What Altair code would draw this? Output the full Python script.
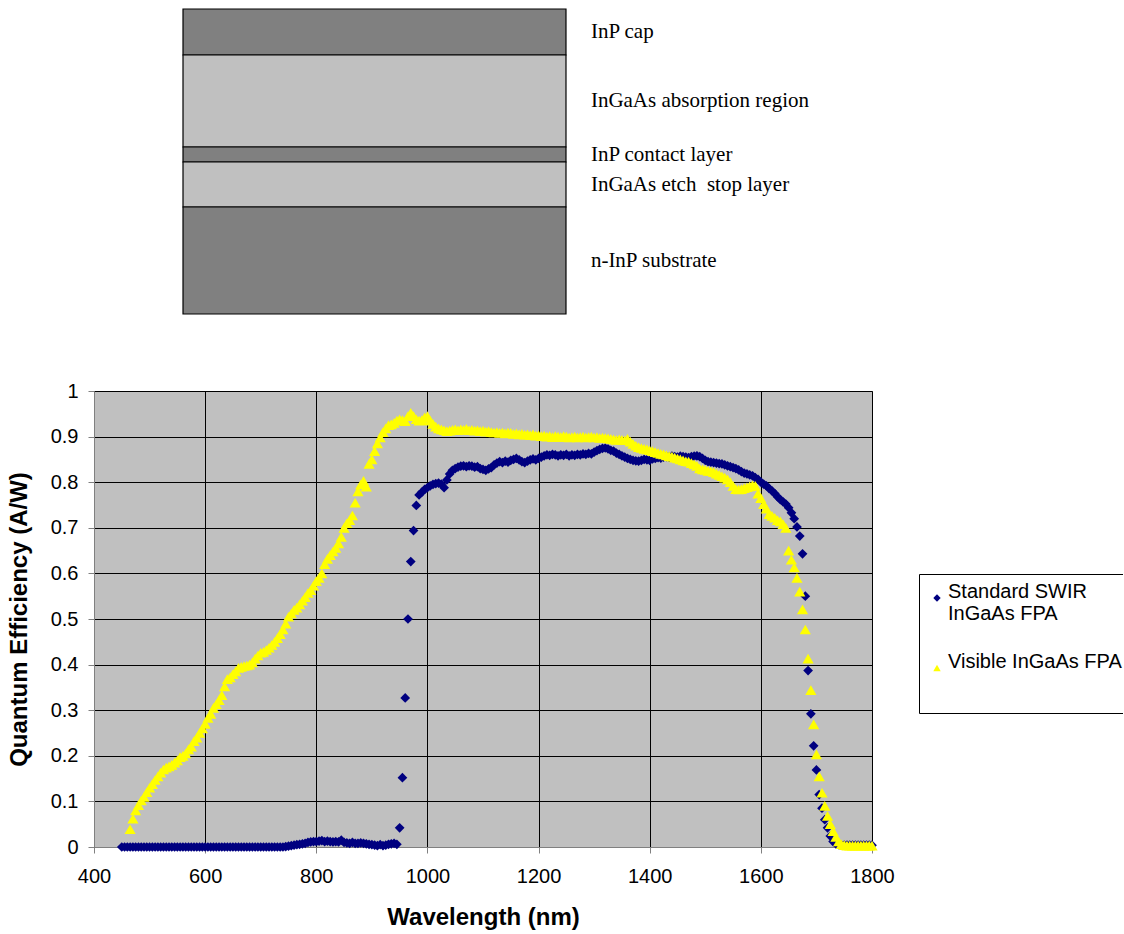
import altair as alt
import pandas as pd

# ---------------- layer-stack diagram ----------------
layer_names = ["InP cap", "InGaAs absorption region", "InP contact layer",
               "InGaAs etch\u00a0 stop layer", "n-InP substrate"]
layer_thickness = [46, 92, 15, 45, 107]
layer_fills = ["#808080", "#C0C0C0", "#808080", "#C0C0C0", "#808080"]

# ---------------- quantum efficiency data ----------------
series_names = ["Standard SWIR InGaAs FPA", "Visible InGaAs FPA"]
series_colors = ["#000080", "#FFFF00"]
series_shapes = ["diamond", "triangle-up"]
step_nm = 5
swir_start_nm = 450
swir_qe = [
    0, 0, 0, 0, 0, 0, 0, 0, 0, 0,                                          # 450-495
    0, 0, 0, 0, 0, 0, 0, 0, 0, 0,                                          # 500
    0, 0, 0, 0, 0, 0, 0, 0, 0, 0,                                          # 550
    0, 0, 0, 0, 0, 0, 0, 0, 0, 0,                                          # 600
    0, 0, 0, 0, 0, 0, 0, 0, 0, 0,                                          # 650
    0, 0, 0, 0, 0, 0, 0, 0, 0, 0.001,                                      # 700
    0.002, 0.003, 0.004, 0.005, 0.006, 0.007, 0.008, 0.010, 0.011, 0.012,  # 750
    0.012, 0.013, 0.014, 0.012, 0.013, 0.012, 0.011, 0.012, 0.011, 0.015,  # 800
    0.010, 0.009, 0.008, 0.010, 0.008, 0.008, 0.009, 0.008, 0.007, 0.006,  # 850
    0.005, 0.004, 0.003, 0.005, 0.003, 0.004, 0.006, 0.007, 0.008, 0.006,  # 900
    0.042, 0.152, 0.327, 0.500, 0.626, 0.694, 0.749, 0.772, 0.778, 0.784,  # 950
    0.788, 0.792, 0.795, 0.797, 0.798, 0.796, 0.788, 0.805, 0.818, 0.826,  # 1000
    0.830, 0.833, 0.835, 0.836, 0.834, 0.836, 0.835, 0.833, 0.834, 0.830,  # 1050
    0.828, 0.826, 0.829, 0.832, 0.838, 0.842, 0.845, 0.843, 0.846, 0.844,  # 1100
    0.848, 0.850, 0.852, 0.849, 0.845, 0.843, 0.846, 0.849, 0.851, 0.849,  # 1150
    0.852, 0.855, 0.858, 0.860, 0.859, 0.861, 0.860, 0.858, 0.860, 0.859,  # 1200
    0.861, 0.858, 0.860, 0.859, 0.861, 0.860, 0.862, 0.861, 0.863, 0.862,  # 1250
    0.866, 0.869, 0.872, 0.874, 0.875, 0.873, 0.870, 0.868, 0.864, 0.861,  # 1300
    0.858, 0.855, 0.852, 0.850, 0.848, 0.847, 0.846, 0.848, 0.850, 0.849,  # 1350
    0.848, 0.851, 0.852, 0.854, 0.853, 0.855, 0.856, 0.855, 0.857, 0.856,  # 1400
    0.855, 0.857, 0.856, 0.855, 0.854, 0.856, 0.857, 0.858, 0.856, 0.852,  # 1450
    0.848, 0.845, 0.844, 0.843, 0.842, 0.841, 0.840, 0.838, 0.836, 0.834,  # 1500
    0.832, 0.830, 0.827, 0.823, 0.820, 0.818, 0.816, 0.814, 0.810, 0.806,  # 1550
    0.800, 0.796, 0.792, 0.786, 0.781, 0.775, 0.768, 0.762, 0.757, 0.752,  # 1600
    0.744, 0.733, 0.720, 0.702, 0.682, 0.643, 0.550, 0.387, 0.292, 0.222,  # 1650
    0.169, 0.115, 0.085, 0.060, 0.042, 0.024, 0.012, 0.007, 0.005, 0.004,  # 1700
    0.004, 0.004, 0.004, 0.004, 0.004, 0.004, 0.004, 0.004, 0.004, 0.004, 0.004,  # 1750-1800
]
visible_start_nm = 465
visible_qe = [
    0.039, 0.062, 0.080, 0.092, 0.102, 0.110, 0.120,                       # 465-495
    0.130, 0.138, 0.147, 0.155, 0.163, 0.170, 0.174, 0.177, 0.180, 0.185,  # 500
    0.190, 0.197, 0.200, 0.205, 0.214, 0.220, 0.232, 0.240, 0.250, 0.260,  # 550
    0.270, 0.283, 0.292, 0.305, 0.313, 0.322, 0.333, 0.352, 0.368, 0.372,  # 600
    0.379, 0.385, 0.393, 0.395, 0.397, 0.398, 0.400, 0.405, 0.413, 0.420,  # 650
    0.426, 0.428, 0.432, 0.437, 0.443, 0.450, 0.458, 0.467, 0.477, 0.490,  # 700
    0.505, 0.512, 0.520, 0.525, 0.532, 0.540, 0.548, 0.557, 0.563, 0.573,  # 750
    0.583, 0.590, 0.600, 0.620, 0.632, 0.640, 0.648, 0.656, 0.666, 0.680,  # 800
    0.700, 0.710, 0.717, 0.727, 0.755, 0.780, 0.795, 0.803, 0.790, 0.840,  # 850
    0.850, 0.868, 0.885, 0.898, 0.910, 0.918, 0.925, 0.927, 0.930, 0.935,  # 900
    0.938, 0.936, 0.934, 0.945, 0.952, 0.945, 0.938, 0.935, 0.936, 0.942,  # 950
    0.945, 0.935, 0.928, 0.922, 0.918, 0.916, 0.914, 0.912, 0.913, 0.915,  # 1000
    0.916, 0.914, 0.916, 0.915, 0.917, 0.914, 0.915, 0.913, 0.914, 0.912,  # 1050
    0.913, 0.911, 0.912, 0.910, 0.909, 0.910, 0.908, 0.909, 0.907, 0.909,  # 1100
    0.908, 0.906, 0.907, 0.905, 0.906, 0.904, 0.905, 0.903, 0.905, 0.902,  # 1150
    0.903, 0.901, 0.902, 0.900, 0.901, 0.899, 0.901, 0.900, 0.899, 0.901,  # 1200
    0.900, 0.898, 0.899, 0.900, 0.898, 0.899, 0.900, 0.898, 0.899, 0.900,  # 1250
    0.898, 0.899, 0.897, 0.898, 0.897, 0.896, 0.895, 0.894, 0.893, 0.894,  # 1300
    0.893, 0.892, 0.895, 0.889, 0.884, 0.880, 0.877, 0.875, 0.873, 0.872,  # 1350
    0.870, 0.868, 0.866, 0.864, 0.862, 0.861, 0.859, 0.857, 0.856, 0.854,  # 1400
    0.852, 0.850, 0.848, 0.846, 0.845, 0.842, 0.839, 0.836, 0.830, 0.828,  # 1450
    0.827, 0.825, 0.824, 0.822, 0.819, 0.816, 0.813, 0.810, 0.806, 0.800,  # 1500
    0.792, 0.785, 0.784, 0.785, 0.787, 0.789, 0.791, 0.793, 0.792, 0.775,  # 1550
    0.765, 0.752, 0.742, 0.730, 0.726, 0.722, 0.717, 0.714, 0.708, 0.700,  # 1600
    0.650, 0.630, 0.613, 0.590, 0.560, 0.521, 0.477, 0.413, 0.344, 0.269,  # 1650
    0.203, 0.155, 0.119, 0.090, 0.068, 0.050, 0.035, 0.022, 0.012, 0.006,  # 1700
    0.004, 0.003, 0.003, 0.003, 0.003, 0.003, 0.003, 0.003, 0.003, 0.003, 0.003,  # 1750-1800
]
x_ticks = [400, 600, 800, 1000, 1200, 1400, 1600, 1800]
y_ticks = [0, 0.1, 0.2, 0.3, 0.4, 0.5, 0.6, 0.7, 0.8, 0.9, 1]

# ---------------- build tables ----------------
tops, acc = [], 0
for t in layer_thickness:
    tops.append(acc)
    acc += t
diag = pd.DataFrame({
    "name": layer_names,
    "top": tops,
    "bottom": [a + b for a, b in zip(tops, layer_thickness)],
    "fill": layer_fills,
})
diag["mid"] = (diag["top"] + diag["bottom"]) / 2
diag["x0"] = 0.0
diag["x1"] = 1.0
diag["lx"] = 1.065

swir_df = pd.DataFrame({
    "wavelength": [swir_start_nm + i * step_nm for i in range(len(swir_qe))],
    "qe": swir_qe,
    "series": series_names[0],
})
vis_df = pd.DataFrame({
    "wavelength": [visible_start_nm + i * step_nm for i in range(len(visible_qe))],
    "qe": visible_qe,
    "series": series_names[1],
})

# ---------------- top panel: diagram ----------------
PW = 778
dx = alt.Scale(domain=[-0.2324, 1.799], nice=False, zero=False)
dy = alt.Scale(domain=[-8, 312], nice=False, zero=False, reverse=True)

rects = alt.Chart(diag).mark_rect(stroke="black", strokeWidth=1.2).encode(
    x=alt.X("x0:Q", scale=dx, axis=None),
    x2="x1:Q",
    y=alt.Y("top:Q", scale=dy, axis=None),
    y2="bottom:Q",
    fill=alt.Fill("fill:N", scale=None),
)
dlabels = alt.Chart(diag).mark_text(
    align="left", baseline="middle", font="Liberation Serif", fontSize=21, color="black"
).encode(
    x=alt.X("lx:Q", scale=dx, axis=None),
    y=alt.Y("mid:Q", scale=dy, axis=None),
    text="name:N",
)
top_panel = alt.layer(rects, dlabels).properties(width=PW, height=320)

# ---------------- bottom panel: QE scatter ----------------
label_expr = ("datum.label == 'Standard SWIR InGaAs FPA' ? "
              "['Standard SWIR', 'InGaAs FPA'] : datum.label")
legend = alt.Legend(
    title=" ", titleOrient="bottom", titleFontSize=20, titlePadding=7,
    orient="none", legendX=825, legendY=573,
    strokeColor="black", fillColor="white", padding=14,
    labelFont="Liberation Sans", labelFontSize=20, labelColor="black",
    labelBaseline="alphabetic", labelExpr=label_expr, labelLimit=400,
    labelOffset=1, symbolOffset=-6, symbolSize=55, rowPadding=28,
)
x_enc = alt.X("wavelength:Q", scale=alt.Scale(domain=[400, 1800], nice=False, zero=False),
              axis=alt.Axis(values=x_ticks, format="d", title="Wavelength (nm)",
                            labelPadding=13, titlePadding=19, labelFlush=False))
y_enc = alt.Y("qe:Q", scale=alt.Scale(domain=[0, 1], nice=False, zero=False),
              axis=alt.Axis(values=y_ticks, format="~g", title="Quantum Efficiency (A/W)",
                            labelPadding=10, titlePadding=19, labelFlush=False))
c_enc = alt.Color("series:N", scale=alt.Scale(domain=series_names, range=series_colors), legend=legend)
s_enc = alt.Shape("series:N", scale=alt.Scale(domain=series_names, range=series_shapes), legend=legend)

swir_pts = alt.Chart(swir_df).mark_point(filled=True, opacity=1, size=95).encode(
    x=x_enc, y=y_enc, color=c_enc, shape=s_enc)
vis_pts = alt.Chart(vis_df).mark_point(filled=True, opacity=1, size=125).encode(
    x=x_enc, y=y_enc, color=c_enc, shape=s_enc)

bottom_panel = alt.layer(swir_pts, vis_pts).properties(
    width=PW, height=456, view=alt.ViewBackground(fill="#C0C0C0", stroke="#808080"))

chart = alt.vconcat(top_panel, bottom_panel, spacing=58).properties(
    padding={"left": 6, "top": 0, "right": -14, "bottom": 0},
    background="white",
).configure_view(stroke="transparent").configure_axis(
    grid=True, gridColor="black", gridWidth=1, gridOpacity=1,
    domainColor="#808080", tickColor="#808080", tickSize=6,
    labelFont="Liberation Sans", labelFontSize=20, labelColor="black",
    titleFont="Liberation Sans", titleFontSize=24, titleFontWeight="bold", titleColor="black",
)

chart.save("out.html", embed_options={"renderer": "svg", "actions": False})
